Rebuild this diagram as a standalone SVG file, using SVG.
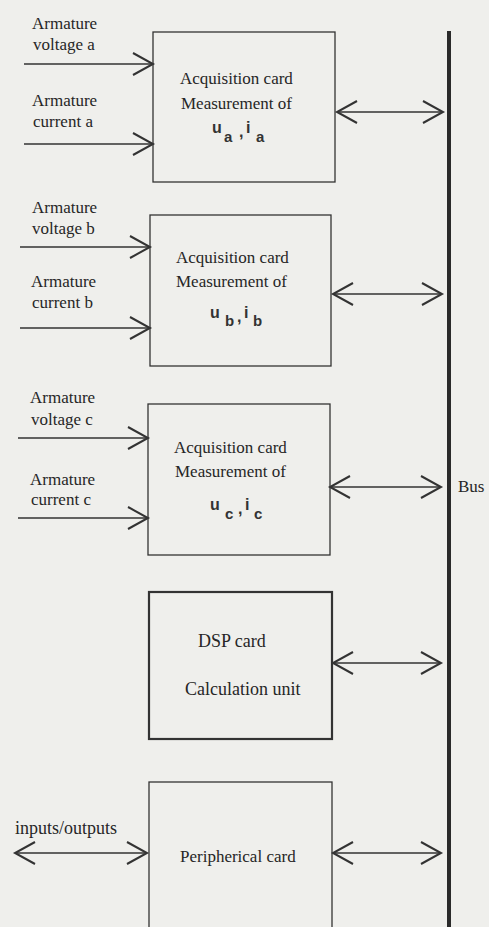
<svg xmlns="http://www.w3.org/2000/svg" width="489" height="927" viewBox="0 0 489 927">
<defs>
<style>
text{font-family:"Liberation Serif","Times New Roman",serif;font-size:17px;fill:#262626}
.big{font-size:18px}
.box{fill:none;stroke:#333;stroke-width:1.3}
.thick{stroke-width:2.2}
.ln{stroke:#333;stroke-width:1.3;fill:none}
.m{font-family:"Liberation Sans",Arial,sans-serif;font-size:16px;font-weight:bold;fill:#333}
.s{font-size:15px}
</style>
<marker id="ah" markerUnits="userSpaceOnUse" markerWidth="24" markerHeight="26" refX="21" refY="12" orient="auto-start-reverse" viewBox="0 0 24 26">
<path d="M1,1 L21,12 L1,23" fill="none" stroke="#333" stroke-width="2"/>
</marker>
</defs>
<rect width="489" height="927" fill="#efefec"/>
<g id="bus">
<line x1="449" y1="31" x2="449" y2="927" stroke="#2a2a2a" stroke-width="4"/>
<text x="458" y="492">Bus</text>
</g>
<g id="cardA">
<rect class="box" x="153" y="32" width="182" height="150"/>
<text x="180" y="84">Acquisition card</text>
<text x="181" y="109">Measurement of</text>
<text class="m"><tspan x="212" y="133">u</tspan><tspan class="s" x="224" y="142">a</tspan><tspan x="239" y="137">,</tspan><tspan x="246" y="133">i</tspan><tspan class="s" x="256" y="142">a</tspan></text>
<text x="32" y="29">Armature</text>
<text x="33" y="50">voltage a</text>
<text x="32" y="106">Armature</text>
<text x="33" y="127">current a</text>
</g>
<g id="cardB">
<rect class="box" x="150" y="215" width="181" height="151"/>
<text x="176" y="263">Acquisition card</text>
<text x="176" y="287">Measurement of</text>
<text class="m"><tspan x="210" y="318">u</tspan><tspan class="s" x="225" y="326">b</tspan><tspan x="237" y="322">,</tspan><tspan x="244" y="318">i</tspan><tspan class="s" x="253" y="326">b</tspan></text>
<text x="32" y="213">Armature</text>
<text x="32" y="234">voltage b</text>
<text x="31" y="287">Armature</text>
<text x="32" y="308">current b</text>
</g>
<g id="cardC">
<rect class="box" x="148" y="404" width="182" height="151"/>
<text x="174" y="453">Acquisition card</text>
<text x="175" y="477">Measurement of</text>
<text class="m"><tspan x="210" y="510">u</tspan><tspan class="s" x="225" y="519">c</tspan><tspan x="238" y="514">,</tspan><tspan x="245" y="510">i</tspan><tspan class="s" x="254" y="519">c</tspan></text>
<text x="30" y="403">Armature</text>
<text x="31" y="425">voltage c</text>
<text x="30" y="485">Armature</text>
<text x="31" y="505">current c</text>
</g>
<g id="dsp">
<rect class="box thick" x="149" y="592" width="183" height="147"/>
<text class="big" x="198" y="647">DSP card</text>
<text class="big" x="185" y="695">Calculation unit</text>
</g>
<g id="peripheral">
<rect class="box" x="149" y="782" width="183" height="160"/>
<text x="180" y="862">Peripherical card</text>
<text class="big" x="15" y="834">inputs/outputs</text>
</g>
<g id="connectors">
<line class="ln" x1="24" y1="64" x2="153" y2="64" marker-end="url(#ah)"/>
<line class="ln" x1="24" y1="144" x2="153" y2="144" marker-end="url(#ah)"/>
<line class="ln" x1="337" y1="112" x2="443" y2="112" marker-start="url(#ah)" marker-end="url(#ah)"/>
<line class="ln" x1="20" y1="247" x2="150" y2="247" marker-end="url(#ah)"/>
<line class="ln" x1="20" y1="328" x2="150" y2="328" marker-end="url(#ah)"/>
<line class="ln" x1="333" y1="294" x2="442" y2="294" marker-start="url(#ah)" marker-end="url(#ah)"/>
<line class="ln" x1="18" y1="438" x2="148" y2="438" marker-end="url(#ah)"/>
<line class="ln" x1="18" y1="518" x2="148" y2="518" marker-end="url(#ah)"/>
<line class="ln" x1="330" y1="487" x2="441" y2="487" marker-start="url(#ah)" marker-end="url(#ah)"/>
<line class="ln" x1="333" y1="663" x2="441" y2="663" marker-start="url(#ah)" marker-end="url(#ah)"/>
<line class="ln" x1="15" y1="853" x2="147" y2="853" marker-start="url(#ah)" marker-end="url(#ah)"/>
<line class="ln" x1="333" y1="853" x2="441" y2="853" marker-start="url(#ah)" marker-end="url(#ah)"/>
</g>
</svg>
